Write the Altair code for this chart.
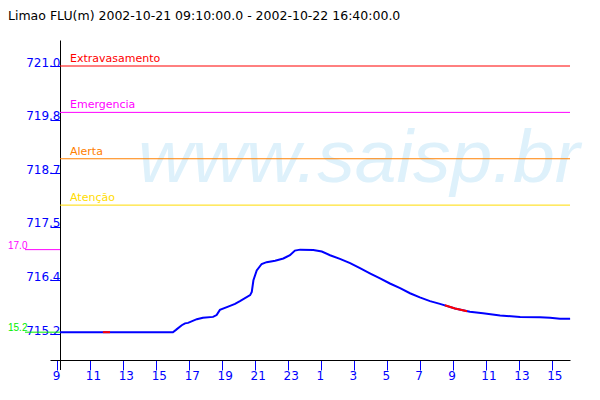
import math
import altair as alt
import pandas as pd

title_text = "Limao FLU(m) 2002-10-21 09:10:00.0 - 2002-10-22 16:40:00.0"
watermark = "www.saisp.br"

# series: time stamps (UTC) and water level (m)
times = [
    "2002-10-21T09:10", "2002-10-21T16:01", "2002-10-21T16:12", "2002-10-21T16:33",
    "2002-10-21T16:45", "2002-10-21T16:56", "2002-10-21T17:28", "2002-10-21T17:50",
    "2002-10-21T18:27", "2002-10-21T18:40", "2002-10-21T18:52", "2002-10-21T19:22",
    "2002-10-21T19:47", "2002-10-21T20:05", "2002-10-21T20:42", "2002-10-21T20:48",
    "2002-10-21T20:54", "2002-10-21T21:06", "2002-10-21T21:24", "2002-10-21T21:42",
    "2002-10-21T22:13", "2002-10-21T22:43", "2002-10-21T23:07", "2002-10-21T23:25",
    "2002-10-21T23:44", "2002-10-22T00:32", "2002-10-22T01:03", "2002-10-22T01:33",
    "2002-10-22T02:09", "2002-10-22T02:46", "2002-10-22T03:22", "2002-10-22T03:58",
    "2002-10-22T04:35", "2002-10-22T05:11", "2002-10-22T05:48", "2002-10-22T06:24",
    "2002-10-22T07:00", "2002-10-22T07:37", "2002-10-22T08:13", "2002-10-22T09:08",
    "2002-10-22T10:02", "2002-10-22T10:50", "2002-10-22T11:52", "2002-10-22T13:05",
    "2002-10-22T14:17", "2002-10-22T14:54", "2002-10-22T15:30", "2002-10-22T16:07",
]
levels = [
    715.26, 715.26, 715.31, 715.41,
    715.45, 715.46, 715.54, 715.57,
    715.59, 715.63, 715.74, 715.81,
    715.87, 715.93, 716.06, 716.13,
    716.38, 716.59, 716.73, 716.77,
    716.80, 716.85, 716.92, 717.02,
    717.04, 717.03, 717.00, 716.92,
    716.84, 716.75, 716.64, 716.53,
    716.42, 716.31, 716.21, 716.10,
    716.01, 715.93, 715.87, 715.77,
    715.70, 715.67, 715.62, 715.59,
    715.58, 715.57, 715.55, 715.55,
]

# estimated (red) stretches
est_times = ["2002-10-21T11:46", "2002-10-21T12:12",
             "2002-10-22T08:31", "2002-10-22T09:08", "2002-10-22T09:52"]
est_levels = [715.26, 715.26, 715.84, 715.77, 715.71]
est_segment = [1, 1, 2, 2, 2]

# alert thresholds
alert_names = ["Extravasamento", "Emergencia", "Alerta", "Atenção"]
alert_levels = [721.0, 720.0, 719.0, 718.0]
alert_colors = ["#ff0000", "#ff00ff", "#ff8000", "#ffdc00"]

# axis ticks
y_ticks = [715.22, 716.376, 717.532, 718.688, 719.844, 721.0]
x_tick_days = [21] * 8 + [22] * 8
x_tick_hours = [9, 11, 13, 15, 17, 19, 21, 23, 1, 3, 5, 7, 9, 11, 13, 15]

BLUE = "#0000ff"
FONT = "DejaVu Sans"

df = pd.DataFrame({"t": [s + ":00Z" for s in times], "v": levels})
df_est = pd.DataFrame({"t": [s + ":00Z" for s in est_times], "v": est_levels, "seg": est_segment})
df_alert = pd.DataFrame({"name": alert_names, "v": alert_levels, "col": alert_colors})

vmax, vmin = max(levels), min(levels)
def trunc_label(v):
    return f"{math.floor(v * 10 + 1e-9) / 10 - 700:.1f}"
df_mm = pd.DataFrame({"v": [vmax, vmin], "lab": [trunc_label(vmax), trunc_label(vmin)],
                      "col": ["#ff00ff", "#00ee00"]})

yscale = alt.Scale(domain=[714.66, 721.561], nice=False, zero=False)
xscale = alt.Scale(type="utc", domain=[
    alt.DateTime(year=2002, month=10, date=21, hours=8, minutes=33, seconds=24, utc=True),
    alt.DateTime(year=2002, month=10, date=22, hours=16, minutes=6, seconds=36, utc=True),
])
x_values = [alt.DateTime(year=2002, month=10, date=d, hours=h, utc=True)
            for d, h in zip(x_tick_days, x_tick_hours)]

x_axis = alt.Axis(
    values=x_values, labelExpr="utcFormat(datum.value, '%-H')", grid=False, title=None,
    domainColor="black", domainWidth=1, tickColor=BLUE, tickSize=10, tickWidth=1,
    labelColor=BLUE, labelFont=FONT, labelFontSize=12, labelAlign="left",
    labelOffset=-5, labelPadding=0, labelBaseline="top",
    labelFlush=False, labelOverlap=False)
y_axis = alt.Axis(
    values=y_ticks, format=".1f", offset=-10, grid=False, title=None,
    domainColor="black", domainWidth=1, tickColor=BLUE, tickSize=10, tickWidth=1,
    labelColor=BLUE, labelFont=FONT, labelFontSize=12, labelAlign="right",
    labelPadding=-10, labelBaseline="alphabetic", labelOffset=0,
    labelFlush=False, labelOverlap=False)

Y = alt.Y("v:Q", scale=yscale, axis=y_axis)
X = alt.X("t:T", scale=xscale, axis=x_axis)

wm = alt.Chart(pd.DataFrame({"w": [watermark]})).mark_text(
    font="Liberation Sans", fontStyle="italic", fontSize=75, color="#def1fb",
    align="left", baseline="alphabetic"
).encode(text="w:N", x=alt.value(88), y=alt.value(142))

alert_rules = alt.Chart(df_alert).mark_rule(strokeWidth=1).encode(
    y=Y, x=alt.value(10), x2=alt.value(520), color=alt.Color("col:N", scale=None))
alert_text = alt.Chart(df_alert).mark_text(
    font=FONT, fontSize=11, align="left", baseline="alphabetic", dy=-4
).encode(y=Y, x=alt.value(20), text="name:N", color=alt.Color("col:N", scale=None))

mm_rules = alt.Chart(df_mm).mark_rule(strokeWidth=1).encode(
    y=Y, x=alt.value(-25), x2=alt.value(10), color=alt.Color("col:N", scale=None))
mm_text = alt.Chart(df_mm).mark_text(
    font="Liberation Sans", fontSize=10, align="left", baseline="alphabetic", dy=-1
).encode(y=Y, x=alt.value(-42), text="lab:N", color=alt.Color("col:N", scale=None))

line = alt.Chart(df).mark_line(color=BLUE, strokeWidth=2).encode(x=X, y=Y)
est = alt.Chart(df_est).mark_line(color="#ff0000", strokeWidth=2).encode(x=X, y=Y, detail="seg:N")

axis_stub = alt.Chart(pd.DataFrame({"a": [0]})).mark_rule(color="black", strokeWidth=1).encode(
    x=alt.value(10.5), y=alt.value(320), y2=alt.value(330))

title = alt.Chart(pd.DataFrame({"t": [title_text]})).mark_text(
    font=FONT, fontSize=12.5, color="black", align="left", baseline="alphabetic"
).encode(text="t:N", x=alt.value(-42), y=alt.value(-20))

chart = alt.layer(wm, alert_rules, alert_text, mm_rules, mm_text, line, est, axis_stub, title).properties(
    width=520, height=320,
    background="white",
    autosize=alt.AutoSizeParams(type="none"),
    padding={"left": 42, "top": 32, "right": 14, "bottom": 30},
).configure_view(strokeWidth=0, stroke="transparent")

chart.save("out.html", embed_options={"renderer": "svg", "actions": False})
